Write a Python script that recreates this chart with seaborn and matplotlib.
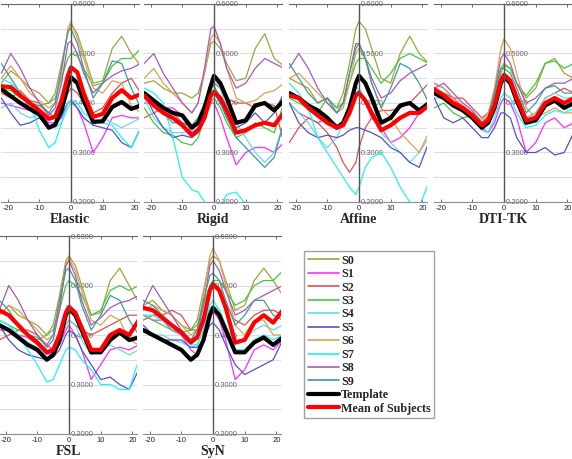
import matplotlib
matplotlib.use("Agg")
import matplotlib.pyplot as plt
import seaborn as sns
from matplotlib.lines import Line2D

# ---------------- data ----------------
x_pos = [-22, -19, -16, -13, -10, -7, -5, -3, -1, 0, 2, 4, 7, 10, 13, 16, 19, 22]
series_names = ["S0", "S1", "S2", "S3", "S4", "S5", "S6", "S7", "S8", "S9",
                "Template", "Mean of Subjects"]
panel_titles = ["Elastic", "Rigid", "Affine", "DTI-TK", "FSL", "SyN"]
y_ticks = [0.2, 0.3, 0.4, 0.5, 0.6]
y_tick_labels = ["0.2000", "0.3000", "0.4000", "0.5000", "0.6000"]
y_grid = [0.2, 0.25, 0.3, 0.35, 0.4, 0.45, 0.5, 0.55, 0.6]
x_ticks = [-20, -10, 0, 10, 20]

elastic = [
    [0.44, 0.465, 0.45, 0.43, 0.42, 0.40, 0.42, 0.48, 0.54, 0.56, 0.54, 0.50, 0.44, 0.445, 0.51, 0.535, 0.50, 0.475],
    [0.40, 0.395, 0.39, 0.385, 0.38, 0.36, 0.36, 0.37, 0.40, 0.405, 0.39, 0.36, 0.30, 0.33, 0.37, 0.375, 0.37, 0.37],
    [0.42, 0.41, 0.425, 0.405, 0.40, 0.38, 0.37, 0.38, 0.42, 0.43, 0.42, 0.40, 0.38, 0.39, 0.42, 0.44, 0.45, 0.42],
    [0.43, 0.425, 0.41, 0.40, 0.395, 0.40, 0.41, 0.45, 0.49, 0.50, 0.495, 0.47, 0.435, 0.44, 0.475, 0.49, 0.49, 0.51],
    [0.39, 0.40, 0.38, 0.37, 0.375, 0.355, 0.35, 0.36, 0.39, 0.40, 0.39, 0.37, 0.355, 0.37, 0.36, 0.35, 0.36, 0.37],
    [0.41, 0.38, 0.355, 0.36, 0.37, 0.35, 0.355, 0.375, 0.40, 0.405, 0.39, 0.37, 0.355, 0.35, 0.345, 0.32, 0.31, 0.35],
    [0.45, 0.475, 0.45, 0.42, 0.405, 0.39, 0.40, 0.46, 0.55, 0.565, 0.53, 0.49, 0.43, 0.42, 0.445, 0.44, 0.395, 0.38],
    [0.45, 0.44, 0.42, 0.40, 0.345, 0.31, 0.32, 0.36, 0.40, 0.405, 0.40, 0.38, 0.365, 0.36, 0.355, 0.33, 0.31, 0.35],
    [0.46, 0.50, 0.47, 0.43, 0.40, 0.375, 0.39, 0.44, 0.52, 0.525, 0.50, 0.46, 0.42, 0.44, 0.455, 0.465, 0.47, 0.48],
    [0.48, 0.45, 0.42, 0.39, 0.395, 0.38, 0.40, 0.47, 0.545, 0.55, 0.52, 0.47, 0.41, 0.44, 0.485, 0.48, 0.43, 0.39],
    [0.428, 0.414, 0.40, 0.388, 0.377, 0.35, 0.356, 0.385, 0.435, 0.452, 0.44, 0.405, 0.362, 0.363, 0.392, 0.402, 0.388, 0.395],
    [0.434, 0.432, 0.415, 0.40, 0.385, 0.368, 0.372, 0.405, 0.455, 0.472, 0.462, 0.42, 0.372, 0.378, 0.41, 0.426, 0.41, 0.418],
]

rigid = [
    [0.44, 0.445, 0.43, 0.42, 0.42, 0.41, 0.42, 0.46, 0.52, 0.525, 0.51, 0.48, 0.445, 0.45, 0.51, 0.54, 0.49, 0.475],
    [0.40, 0.40, 0.39, 0.39, 0.375, 0.34, 0.35, 0.37, 0.40, 0.40, 0.37, 0.33, 0.275, 0.30, 0.31, 0.31, 0.30, 0.32],
    [0.37, 0.38, 0.39, 0.38, 0.36, 0.35, 0.36, 0.39, 0.43, 0.44, 0.43, 0.41, 0.40, 0.40, 0.39, 0.40, 0.395, 0.32],
    [0.39, 0.36, 0.34, 0.335, 0.32, 0.315, 0.33, 0.37, 0.40, 0.41, 0.39, 0.36, 0.33, 0.34, 0.36, 0.35, 0.34, 0.40],
    [0.41, 0.37, 0.35, 0.34, 0.34, 0.345, 0.36, 0.40, 0.44, 0.45, 0.43, 0.39, 0.36, 0.33, 0.30, 0.28, 0.30, 0.36],
    [0.42, 0.38, 0.35, 0.33, 0.335, 0.33, 0.34, 0.37, 0.41, 0.42, 0.40, 0.37, 0.35, 0.36, 0.38, 0.36, 0.38, 0.42],
    [0.45, 0.47, 0.44, 0.42, 0.40, 0.38, 0.40, 0.46, 0.53, 0.54, 0.52, 0.47, 0.41, 0.40, 0.405, 0.42, 0.425, 0.44],
    [0.43, 0.42, 0.40, 0.33, 0.25, 0.225, 0.22, 0.20, 0.185, 0.18, 0.19, 0.215, 0.22, 0.195, 0.17, 0.16, 0.17, 0.18],
    [0.48, 0.50, 0.46, 0.43, 0.40, 0.38, 0.40, 0.47, 0.55, 0.555, 0.52, 0.47, 0.43, 0.44, 0.47, 0.49, 0.48, 0.47],
    [0.42, 0.40, 0.38, 0.36, 0.36, 0.355, 0.37, 0.40, 0.43, 0.435, 0.41, 0.37, 0.33, 0.31, 0.29, 0.27, 0.29, 0.36],
    [0.42, 0.405, 0.39, 0.38, 0.375, 0.35, 0.36, 0.39, 0.435, 0.455, 0.44, 0.41, 0.36, 0.365, 0.395, 0.40, 0.385, 0.405],
    [0.415, 0.395, 0.38, 0.37, 0.355, 0.335, 0.345, 0.37, 0.415, 0.423, 0.41, 0.385, 0.34, 0.345, 0.355, 0.36, 0.355, 0.38],
]

affine = [
    [0.45, 0.44, 0.43, 0.40, 0.41, 0.39, 0.42, 0.48, 0.55, 0.565, 0.55, 0.51, 0.45, 0.44, 0.50, 0.535, 0.50, 0.48],
    [0.40, 0.38, 0.37, 0.36, 0.37, 0.355, 0.36, 0.39, 0.42, 0.425, 0.40, 0.37, 0.35, 0.32, 0.33, 0.35, 0.38, 0.40],
    [0.32, 0.35, 0.37, 0.36, 0.34, 0.31, 0.28, 0.26, 0.28, 0.31, 0.35, 0.37, 0.385, 0.385, 0.39, 0.40, 0.42, 0.44],
    [0.41, 0.40, 0.39, 0.38, 0.41, 0.39, 0.40, 0.44, 0.48, 0.49, 0.49, 0.47, 0.44, 0.46, 0.49, 0.50, 0.49, 0.48],
    [0.40, 0.38, 0.36, 0.33, 0.31, 0.33, 0.36, 0.40, 0.43, 0.43, 0.41, 0.38, 0.34, 0.32, 0.30, 0.28, 0.30, 0.33],
    [0.40, 0.36, 0.34, 0.33, 0.335, 0.33, 0.335, 0.345, 0.35, 0.35, 0.345, 0.34, 0.33, 0.31, 0.30, 0.28, 0.27, 0.32],
    [0.45, 0.46, 0.44, 0.42, 0.40, 0.38, 0.39, 0.44, 0.50, 0.51, 0.49, 0.44, 0.39, 0.37, 0.34, 0.32, 0.30, 0.34],
    [0.44, 0.42, 0.39, 0.33, 0.30, 0.27, 0.25, 0.23, 0.215, 0.23, 0.27, 0.29, 0.30, 0.27, 0.23, 0.20, 0.19, 0.24],
    [0.47, 0.50, 0.47, 0.43, 0.40, 0.38, 0.40, 0.46, 0.52, 0.52, 0.49, 0.45, 0.41, 0.42, 0.445, 0.46, 0.47, 0.48],
    [0.48, 0.45, 0.42, 0.40, 0.41, 0.38, 0.40, 0.46, 0.51, 0.52, 0.49, 0.44, 0.39, 0.43, 0.48, 0.47, 0.44, 0.40],
    [0.42, 0.41, 0.395, 0.385, 0.37, 0.35, 0.36, 0.39, 0.44, 0.455, 0.44, 0.41, 0.36, 0.37, 0.395, 0.40, 0.385, 0.40],
    [0.415, 0.41, 0.39, 0.375, 0.36, 0.35, 0.355, 0.38, 0.415, 0.42, 0.405, 0.38, 0.345, 0.355, 0.37, 0.38, 0.38, 0.395],
]

dti_tk = [
    [0.43, 0.42, 0.41, 0.39, 0.375, 0.36, 0.375, 0.42, 0.47, 0.48, 0.47, 0.44, 0.41, 0.43, 0.48, 0.49, 0.46, 0.45],
    [0.44, 0.43, 0.41, 0.39, 0.37, 0.35, 0.34, 0.36, 0.40, 0.41, 0.40, 0.37, 0.30, 0.32, 0.36, 0.37, 0.35, 0.36],
    [0.43, 0.42, 0.41, 0.41, 0.39, 0.37, 0.38, 0.41, 0.45, 0.46, 0.45, 0.42, 0.37, 0.38, 0.41, 0.42, 0.43, 0.42],
    [0.39, 0.40, 0.38, 0.37, 0.375, 0.36, 0.37, 0.41, 0.46, 0.475, 0.47, 0.44, 0.415, 0.44, 0.48, 0.485, 0.47, 0.48],
    [0.41, 0.41, 0.40, 0.385, 0.375, 0.355, 0.365, 0.40, 0.44, 0.45, 0.44, 0.41, 0.37, 0.38, 0.41, 0.42, 0.41, 0.41],
    [0.41, 0.37, 0.36, 0.37, 0.35, 0.33, 0.33, 0.35, 0.38, 0.38, 0.37, 0.33, 0.30, 0.30, 0.31, 0.295, 0.30, 0.34],
    [0.44, 0.43, 0.41, 0.395, 0.38, 0.365, 0.38, 0.43, 0.51, 0.53, 0.51, 0.46, 0.39, 0.37, 0.38, 0.39, 0.38, 0.38],
    [0.43, 0.42, 0.40, 0.385, 0.37, 0.345, 0.34, 0.37, 0.41, 0.42, 0.41, 0.38, 0.35, 0.355, 0.375, 0.385, 0.38, 0.39],
    [0.43, 0.44, 0.42, 0.40, 0.385, 0.36, 0.37, 0.42, 0.49, 0.50, 0.48, 0.44, 0.40, 0.41, 0.43, 0.44, 0.44, 0.45],
    [0.42, 0.42, 0.40, 0.39, 0.38, 0.36, 0.37, 0.42, 0.47, 0.47, 0.46, 0.43, 0.38, 0.40, 0.43, 0.435, 0.42, 0.42],
    [0.42, 0.41, 0.395, 0.385, 0.37, 0.35, 0.36, 0.39, 0.44, 0.453, 0.44, 0.405, 0.36, 0.365, 0.395, 0.405, 0.39, 0.40],
    [0.428, 0.415, 0.40, 0.39, 0.375, 0.355, 0.365, 0.395, 0.445, 0.457, 0.445, 0.41, 0.365, 0.37, 0.40, 0.41, 0.40, 0.41],
]

fsl = [
    [0.44, 0.46, 0.44, 0.43, 0.42, 0.40, 0.42, 0.48, 0.55, 0.56, 0.54, 0.50, 0.44, 0.445, 0.51, 0.535, 0.50, 0.465],
    [0.41, 0.41, 0.40, 0.395, 0.38, 0.36, 0.365, 0.38, 0.41, 0.42, 0.40, 0.37, 0.31, 0.34, 0.37, 0.375, 0.37, 0.38],
    [0.39, 0.40, 0.41, 0.41, 0.40, 0.38, 0.37, 0.38, 0.42, 0.43, 0.42, 0.41, 0.40, 0.41, 0.42, 0.43, 0.44, 0.44],
    [0.43, 0.42, 0.41, 0.40, 0.39, 0.40, 0.41, 0.45, 0.50, 0.51, 0.50, 0.48, 0.44, 0.45, 0.49, 0.50, 0.49, 0.50],
    [0.43, 0.42, 0.40, 0.385, 0.375, 0.36, 0.37, 0.39, 0.42, 0.43, 0.42, 0.39, 0.36, 0.37, 0.38, 0.37, 0.36, 0.37],
    [0.42, 0.39, 0.37, 0.36, 0.355, 0.35, 0.355, 0.37, 0.40, 0.41, 0.40, 0.37, 0.34, 0.31, 0.315, 0.30, 0.29, 0.33],
    [0.44, 0.46, 0.45, 0.43, 0.41, 0.39, 0.40, 0.46, 0.54, 0.555, 0.53, 0.49, 0.43, 0.42, 0.44, 0.43, 0.39, 0.38],
    [0.43, 0.42, 0.40, 0.37, 0.34, 0.305, 0.31, 0.34, 0.37, 0.375, 0.37, 0.35, 0.33, 0.30, 0.30, 0.29, 0.29, 0.35],
    [0.45, 0.50, 0.47, 0.43, 0.40, 0.375, 0.39, 0.45, 0.54, 0.55, 0.52, 0.47, 0.42, 0.435, 0.455, 0.465, 0.47, 0.48],
    [0.47, 0.45, 0.42, 0.40, 0.395, 0.38, 0.40, 0.47, 0.53, 0.535, 0.51, 0.46, 0.41, 0.44, 0.48, 0.47, 0.43, 0.40],
    [0.42, 0.41, 0.395, 0.38, 0.37, 0.35, 0.36, 0.39, 0.44, 0.453, 0.44, 0.41, 0.365, 0.365, 0.39, 0.405, 0.39, 0.395],
    [0.45, 0.44, 0.42, 0.40, 0.385, 0.365, 0.37, 0.40, 0.445, 0.457, 0.445, 0.415, 0.37, 0.37, 0.40, 0.41, 0.40, 0.43],
]

syn = [
    [0.46, 0.47, 0.45, 0.44, 0.42, 0.41, 0.43, 0.49, 0.55, 0.56, 0.55, 0.51, 0.45, 0.46, 0.51, 0.535, 0.51, 0.48],
    [0.44, 0.43, 0.43, 0.41, 0.40, 0.37, 0.36, 0.39, 0.44, 0.45, 0.43, 0.39, 0.31, 0.33, 0.37, 0.38, 0.37, 0.39],
    [0.43, 0.44, 0.44, 0.45, 0.44, 0.41, 0.41, 0.44, 0.49, 0.50, 0.49, 0.46, 0.43, 0.42, 0.44, 0.45, 0.45, 0.44],
    [0.44, 0.43, 0.42, 0.41, 0.405, 0.41, 0.42, 0.46, 0.50, 0.51, 0.51, 0.49, 0.46, 0.47, 0.50, 0.51, 0.51, 0.53],
    [0.41, 0.40, 0.40, 0.39, 0.385, 0.375, 0.38, 0.41, 0.45, 0.46, 0.45, 0.42, 0.38, 0.39, 0.41, 0.42, 0.41, 0.42],
    [0.42, 0.40, 0.39, 0.39, 0.39, 0.375, 0.375, 0.39, 0.42, 0.425, 0.41, 0.38, 0.34, 0.32, 0.33, 0.34, 0.35, 0.39],
    [0.45, 0.46, 0.45, 0.44, 0.42, 0.40, 0.41, 0.48, 0.56, 0.575, 0.55, 0.50, 0.42, 0.40, 0.43, 0.43, 0.40, 0.40],
    [0.44, 0.44, 0.43, 0.415, 0.40, 0.38, 0.38, 0.41, 0.46, 0.47, 0.45, 0.42, 0.37, 0.37, 0.39, 0.40, 0.39, 0.40],
    [0.46, 0.50, 0.47, 0.44, 0.41, 0.39, 0.40, 0.46, 0.54, 0.55, 0.53, 0.49, 0.44, 0.45, 0.47, 0.48, 0.49, 0.50],
    [0.47, 0.46, 0.44, 0.42, 0.41, 0.39, 0.41, 0.47, 0.52, 0.525, 0.51, 0.47, 0.42, 0.44, 0.47, 0.47, 0.44, 0.43],
    [0.41, 0.40, 0.39, 0.38, 0.37, 0.35, 0.36, 0.39, 0.44, 0.455, 0.44, 0.41, 0.365, 0.365, 0.385, 0.395, 0.38, 0.395],
    [0.455, 0.45, 0.435, 0.42, 0.405, 0.385, 0.395, 0.43, 0.49, 0.503, 0.49, 0.455, 0.385, 0.39, 0.425, 0.44, 0.425, 0.45],
]

panels = [elastic, rigid, affine, dti_tk, fsl, syn]

# ---------------- style ----------------
colors = ["#a3a33c", "#ff2cff", "#e05050", "#3fcc3f", "#66dede", "#5252c8",
          "#e0a050", "#1ef5f5", "#a858bc", "#3f9a9a", "#000000", "#ff0000"]
widths = [0.9] * 10 + [3.0, 3.0]

sns.set_style("white")
plt.rcParams["font.family"] = ["Liberation Sans", "DejaVu Sans"]
plt.rcParams["axes.unicode_minus"] = False

W, H = 572, 459
fig = plt.figure(figsize=(W / 100, H / 100), dpi=100)

zero_px = [71, 214, 359, 504, 69, 213]
top_px = [4, 4, 4, 4, 236, 236]
ppu = 3.17
x_lo, x_hi = -22, 21.5
ax_h = 198

for i, (data, title) in enumerate(zip(panels, panel_titles)):
    left = zero_px[i] + x_lo * ppu
    width = (x_hi - x_lo) * ppu
    ax = fig.add_axes([left / W, 1 - (top_px[i] + ax_h) / H, width / W, ax_h / H])
    for vals, col, lw in zip(data, colors, widths):
        sns.lineplot(x=x_pos, y=vals, color=col, linewidth=lw, ax=ax,
                     legend=False, solid_joinstyle="round", solid_capstyle="round")
    ax.set_xlim(x_lo, x_hi)
    ax.set_ylim(0.2, 0.6)
    ax.set_yticks(y_grid, minor=True)
    ax.set_yticks(y_ticks)
    ax.set_yticklabels(y_tick_labels)
    ax.set_xticks(x_ticks)
    ax.set_xticklabels([str(t) for t in x_ticks])
    ax.grid(axis="y", which="both", color="#dcdcea", linewidth=0.8)
    ax.grid(axis="x", visible=False)
    ax.set_axisbelow(True)
    ax.yaxis.tick_right()
    ax.spines["left"].set_visible(False)
    ax.spines["right"].set_position(("data", 0))
    ax.spines["right"].set_color("#555555")
    ax.spines["right"].set_linewidth(1.0)
    ax.spines["top"].set_color("#666666")
    ax.spines["top"].set_linewidth(0.8)
    ax.spines["bottom"].set_color("#8a8aae")
    ax.spines["bottom"].set_linewidth(0.8)
    ax.tick_params(axis="y", which="both", length=0, labelsize=5.5,
                   labelcolor="#666666", pad=1)
    ax.tick_params(axis="x", which="major", top=True, bottom=True, direction="in",
                   length=2.5, width=0.6, color="#555555", labelsize=5.5,
                   labelcolor="#222222", pad=2)
    ax.set_xlabel(title, fontsize=10, fontweight="bold",
                  family=["Liberation Serif", "DejaVu Serif"], labelpad=1)
    ax.set_ylabel("")
    ax.patch.set_alpha(0)

handles = [Line2D([0], [0], color=c, linewidth=(1.2 if lw < 2 else 3.0))
           for c, lw in zip(colors, widths)]
leg = fig.legend(handles, series_names, loc="upper left",
                 bbox_to_anchor=(304 / W, 1 - 251 / H), borderaxespad=0,
                 frameon=True, fancybox=False, edgecolor="#888888",
                 prop=dict(family=["Liberation Serif", "DejaVu Serif"], weight="bold", size=8.7),
                 handlelength=2.6, handletextpad=0.15, labelspacing=0.12,
                 borderpad=0.3)
leg.get_frame().set_linewidth(1.0)

fig.savefig("out.png", dpi=100)
